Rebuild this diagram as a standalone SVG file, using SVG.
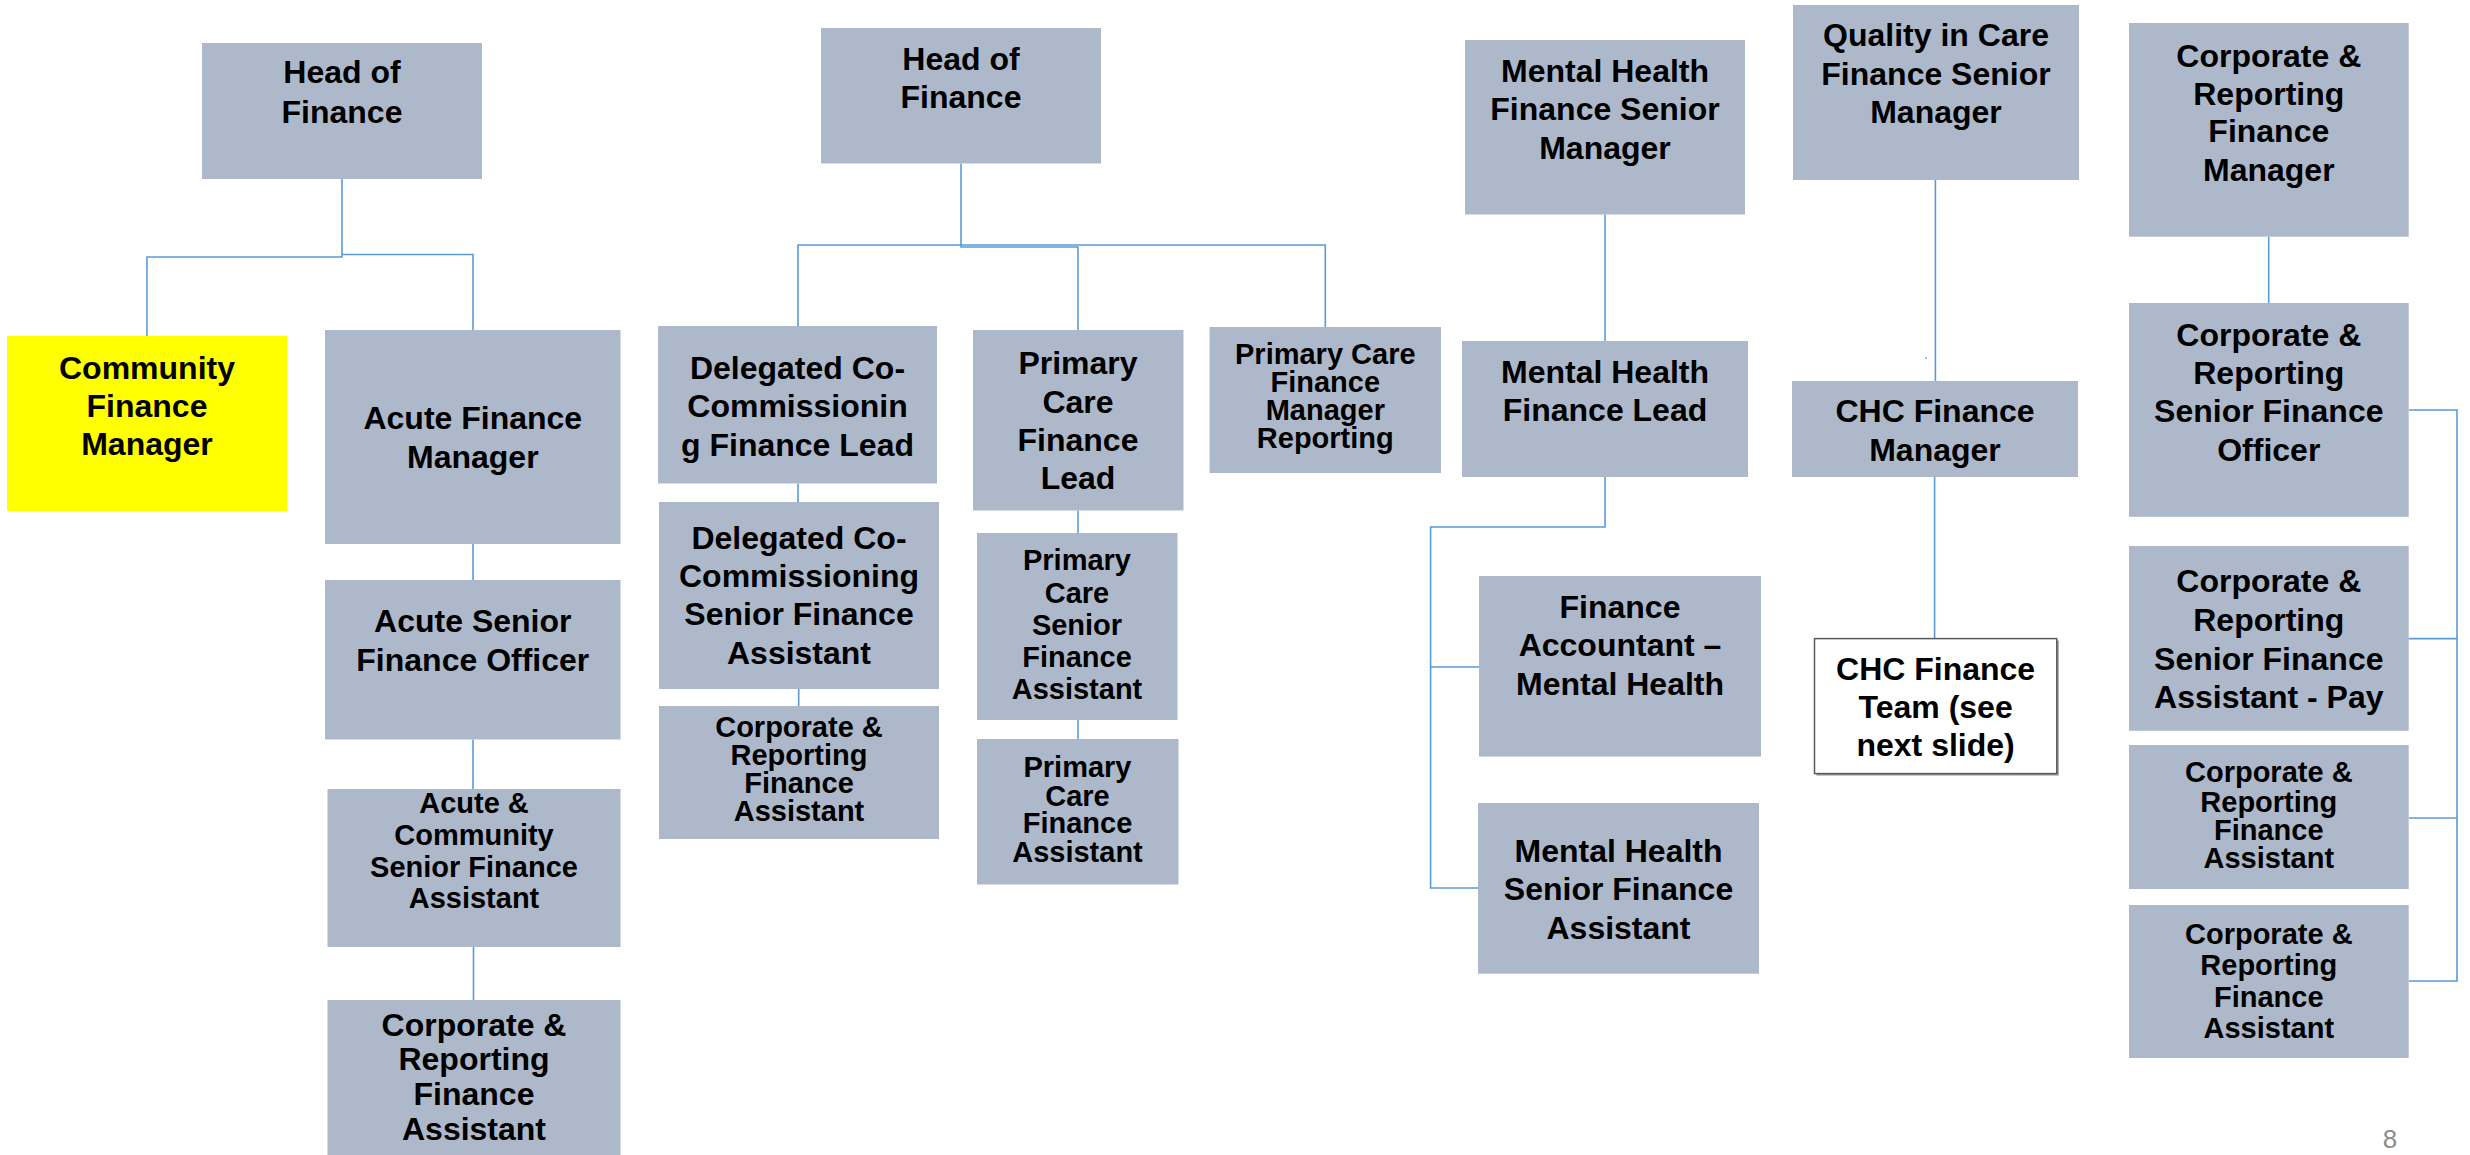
<svg xmlns="http://www.w3.org/2000/svg" width="2470" height="1155" viewBox="0 0 2470 1155">
<style>
.b{fill:#ADB9CA;}
.y{fill:#FFFF00;}
.w{fill:#FFFFFF;stroke:#595959;stroke-width:1.5;}
.t{font-family:"Liberation Sans",Arial,sans-serif;font-weight:bold;font-size:32px;fill:#000;text-anchor:middle;}
.s{font-size:29px;}
.c{fill:none;stroke:#5B9BD5;stroke-width:1.6;}
.pg{font-family:"Liberation Sans",Arial,sans-serif;font-size:26px;fill:#8C8C8C;text-anchor:middle;}
</style>
<rect width="2470" height="1155" fill="#FFFFFF"/>
<g id="connectors">
<path class="c" d="M342 179 V257 H147 V336"/>
<path class="c" d="M342 254.5 H473 V330"/>
<path class="c" d="M473 544 V580"/>
<path class="c" d="M473 739.5 V789"/>
<path class="c" d="M473.5 947 V1000"/>
<path class="c" d="M961 163.5 V247 H1078 V330"/>
<path class="c" d="M798 326 V245 H1325.3 V327"/>
<path class="c" d="M798 483.5 V502"/>
<path class="c" d="M798.7 689 V706"/>
<path class="c" d="M1078 510.5 V533"/>
<path class="c" d="M1078 719.8 V739"/>
<path class="c" d="M1605 214.5 V341"/>
<path class="c" d="M1605 477 V527 H1430.6 V888 H1478"/>
<path class="c" d="M1430.6 667 H1479"/>
<path class="c" d="M1935.4 180 V381"/>
<path class="c" d="M1934.6 477 V638.6"/>
<path class="c" d="M2268.7 236.7 V303"/>
<path class="c" d="M2408.7 410 H2457 V981 H2408.7"/>
<path class="c" d="M2408.7 638.6 H2457"/>
<path class="c" d="M2408.7 818 H2457"/>
<rect x="1925.5" y="357" width="1.2" height="2" fill="#5B9BD5"/>
</g>
<g id="hof1"><rect class="b" x="202" y="43" width="280" height="136"/><text class="t" x="342" y="83">Head of</text><text class="t" x="342" y="123">Finance</text></g>
<g id="community"><rect class="y" x="7" y="336" width="280" height="175"/><text class="t" x="147" y="379">Community</text><text class="t" x="147" y="417">Finance</text><text class="t" x="147" y="455">Manager</text></g>
<g id="acute_fm"><rect class="b" x="325" y="330" width="295.5" height="214"/><text class="t" x="472.8" y="429">Acute Finance</text><text class="t" x="472.8" y="468">Manager</text></g>
<g id="acute_sfo"><rect class="b" x="325" y="580" width="295.5" height="159.5"/><text class="t" x="472.8" y="632">Acute Senior</text><text class="t" x="472.8" y="671">Finance Officer</text></g>
<g id="acute_comm_sfa"><rect class="b" x="327.5" y="789" width="293" height="158"/><text class="t s" x="474" y="813">Acute &amp;</text><text class="t s" x="474" y="845">Community</text><text class="t s" x="474" y="877">Senior Finance</text><text class="t s" x="474" y="908">Assistant</text></g>
<g id="cr_fa_col1"><rect class="b" x="327.5" y="1000" width="293" height="155"/><text class="t" x="474" y="1036">Corporate &amp;</text><text class="t" x="474" y="1070">Reporting</text><text class="t" x="474" y="1105">Finance</text><text class="t" x="474" y="1139.5">Assistant</text></g>
<g id="hof2"><rect class="b" x="821" y="28" width="280" height="135.5"/><text class="t" x="961" y="69.5">Head of</text><text class="t" x="961" y="108">Finance</text></g>
<g id="dcc_lead"><rect class="b" x="658" y="326" width="279" height="157.5"/><text class="t" x="797.5" y="379">Delegated Co-</text><text class="t" x="797.5" y="417">Commissionin</text><text class="t" x="797.5" y="456">g Finance Lead</text></g>
<g id="dcc_sfa"><rect class="b" x="659" y="502" width="280" height="187"/><text class="t" x="799" y="548.6">Delegated Co-</text><text class="t" x="799" y="586.6">Commissioning</text><text class="t" x="799" y="625">Senior Finance</text><text class="t" x="799" y="664">Assistant</text></g>
<g id="cr_fa_col2"><rect class="b" x="659" y="706" width="280" height="133"/><text class="t s" x="799" y="737">Corporate &amp;</text><text class="t s" x="799" y="765">Reporting</text><text class="t s" x="799" y="793">Finance</text><text class="t s" x="799" y="821">Assistant</text></g>
<g id="pc_lead"><rect class="b" x="973" y="330" width="210.5" height="180.5"/><text class="t" x="1078" y="374">Primary</text><text class="t" x="1078" y="412.5">Care</text><text class="t" x="1078" y="451">Finance</text><text class="t" x="1078" y="489">Lead</text></g>
<g id="pc_sfa"><rect class="b" x="977" y="533" width="200.5" height="187"/><text class="t s" x="1077" y="570">Primary</text><text class="t s" x="1077" y="603">Care</text><text class="t s" x="1077" y="635">Senior</text><text class="t s" x="1077" y="667">Finance</text><text class="t s" x="1077" y="698.5">Assistant</text></g>
<g id="pc_fa"><rect class="b" x="977" y="739" width="201.5" height="145.5"/><text class="t s" x="1077.5" y="777">Primary</text><text class="t s" x="1077.5" y="805.5">Care</text><text class="t s" x="1077.5" y="833">Finance</text><text class="t s" x="1077.5" y="861.7">Assistant</text></g>
<g id="pc_fm_reporting"><rect class="b" x="1209.6" y="327" width="231.4" height="146"/><text class="t s" x="1325.3" y="364">Primary Care</text><text class="t s" x="1325.3" y="392">Finance</text><text class="t s" x="1325.3" y="420">Manager</text><text class="t s" x="1325.3" y="447.6">Reporting</text></g>
<g id="mh_fsm"><rect class="b" x="1465" y="40" width="280" height="174.5"/><text class="t" x="1605" y="82">Mental Health</text><text class="t" x="1605" y="120">Finance Senior</text><text class="t" x="1605" y="159">Manager</text></g>
<g id="mh_lead"><rect class="b" x="1462" y="341" width="286" height="136"/><text class="t" x="1605" y="383">Mental Health</text><text class="t" x="1605" y="421">Finance Lead</text></g>
<g id="fa_mh"><rect class="b" x="1479" y="576" width="282" height="180.6"/><text class="t" x="1620" y="617.7">Finance</text><text class="t" x="1620" y="656">Accountant –</text><text class="t" x="1620" y="694.7">Mental Health</text></g>
<g id="mh_sfa"><rect class="b" x="1478" y="803" width="281" height="170.7"/><text class="t" x="1618.5" y="861.7">Mental Health</text><text class="t" x="1618.5" y="900">Senior Finance</text><text class="t" x="1618.5" y="938.7">Assistant</text></g>
<g id="qic"><rect class="b" x="1793" y="5" width="286" height="175"/><text class="t" x="1936" y="46">Quality in Care</text><text class="t" x="1936" y="85">Finance Senior</text><text class="t" x="1936" y="123">Manager</text></g>
<g id="chc_fm"><rect class="b" x="1792" y="381" width="286" height="96"/><text class="t" x="1935" y="421.7">CHC Finance</text><text class="t" x="1935" y="460.5">Manager</text></g>
<g id="chc_team"><rect x="1816.5" y="640.6" width="242.3" height="135" fill="#A0A0A0"/><rect class="w" x="1814.5" y="638.6" width="242.3" height="135"/><text class="t" x="1935.6" y="679.5">CHC Finance</text><text class="t" x="1935.6" y="717.5">Team (see</text><text class="t" x="1935.6" y="756">next slide)</text></g>
<g id="cr_fm"><rect class="b" x="2129" y="23" width="279.7" height="213.7"/><text class="t" x="2268.8" y="66.6">Corporate &amp;</text><text class="t" x="2268.8" y="104.7">Reporting</text><text class="t" x="2268.8" y="142.4">Finance</text><text class="t" x="2268.8" y="181">Manager</text></g>
<g id="cr_sfo"><rect class="b" x="2129" y="303" width="279.7" height="213.8"/><text class="t" x="2268.8" y="346">Corporate &amp;</text><text class="t" x="2268.8" y="384">Reporting</text><text class="t" x="2268.8" y="421.7">Senior Finance</text><text class="t" x="2268.8" y="460.5">Officer</text></g>
<g id="cr_sfa_pay"><rect class="b" x="2129" y="546" width="279.7" height="184.8"/><text class="t" x="2268.8" y="592">Corporate &amp;</text><text class="t" x="2268.8" y="631">Reporting</text><text class="t" x="2268.8" y="670">Senior Finance</text><text class="t" x="2268.8" y="708">Assistant - Pay</text></g>
<g id="cr_fa1"><rect class="b" x="2129" y="745" width="279.7" height="144"/><text class="t s" x="2268.8" y="782">Corporate &amp;</text><text class="t s" x="2268.8" y="811.6">Reporting</text><text class="t s" x="2268.8" y="839.7">Finance</text><text class="t s" x="2268.8" y="868">Assistant</text></g>
<g id="cr_fa2"><rect class="b" x="2129" y="905" width="279.7" height="153"/><text class="t s" x="2268.8" y="944">Corporate &amp;</text><text class="t s" x="2268.8" y="975">Reporting</text><text class="t s" x="2268.8" y="1007">Finance</text><text class="t s" x="2268.8" y="1038">Assistant</text></g>
<text class="pg" x="2390" y="1148">8</text>
</svg>
